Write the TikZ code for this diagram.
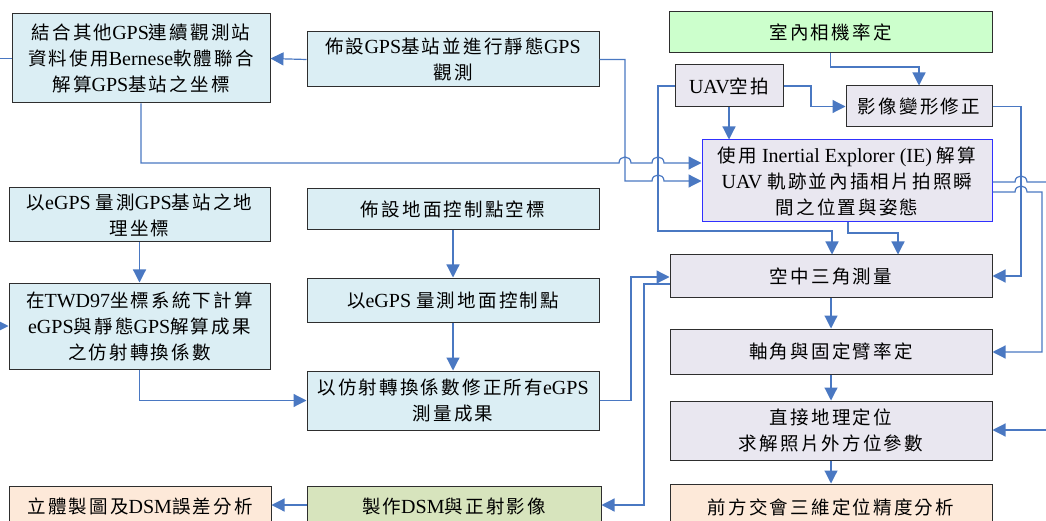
\documentclass[tikz,border=0pt]{standalone}
\usepackage{fontspec}
\setmainfont{Liberation Serif}
\newfontfamily\latinfont{Liberation Serif}
\newfontfamily\cjkfont[LetterSpace=12]{Noto Sans CJK TC}
\usetikzlibrary{arrows.meta}
\definecolor{lblue}{HTML}{DBEEF4}
\definecolor{lav}{HTML}{E9E7F0}
\definecolor{lgreen}{HTML}{CCFFCC}
\definecolor{peach}{HTML}{FDE9D9}
\definecolor{olive}{HTML}{D7E4BD}
\definecolor{lineblue}{HTML}{4A78C2}
\definecolor{bord}{HTML}{2E2E2E}
\definecolor{fblue}{HTML}{3030FF}
\newcommand\en[1]{{\fontsize{20}{26}\latinfont #1}}
\begin{document}
\begin{tikzpicture}[x=1pt,y=-1pt,
  box/.style={draw=bord, line width=1pt, inner sep=0pt, align=center,
    font=\fontsize{18.5}{26}\cjkfont},
  conn/.style={draw=lineblue, line width=1.2pt},
  arr/.style={conn, -{Triangle[length=13pt,width=13pt]}}]
\clip (0,0) rectangle (1046,521);
\fill[white] (0,0) rectangle (1046,521);
% boxes
\node[box, fill=lblue, minimum width=258pt, minimum height=89pt] (A) at (141,58.5)
  {結合其他\en{GPS}連續觀測站\\資料使用\en{Bernese}軟體聯合\\解算\en{GPS}基站之坐標};
\node[box, fill=lblue, minimum width=292pt, minimum height=55pt] (B) at (453,59.5)
  {佈設\en{GPS}基站並進行靜態\en{GPS}\\觀測};
\node[box, fill=lgreen, minimum width=323pt, minimum height=41pt] (C) at (830.5,32.5)
  {室內相機率定};
\node[box, fill=lav, minimum width=108pt, minimum height=42pt] (D) at (729,86)
  {\en{UAV}空拍};
\node[box, fill=lav, minimum width=146pt, minimum height=41pt] (E) at (919,106.5)
  {影像變形修正};
\node[box, draw=fblue, fill=lav, minimum width=290pt, minimum height=82pt] (F) at (847,181)
  {使用\en{ Inertial Explorer (IE) }解算\\\en{UAV }軌跡並內插相片拍照瞬\\間之位置與姿態};
\node[box, fill=lblue, minimum width=261pt, minimum height=54pt] (G) at (139.5,215)
  {以\en{eGPS }量測\en{GPS}基站之地\\理坐標};
\node[box, fill=lblue, minimum width=261pt, minimum height=86pt] (H) at (139.5,326)
  {在\en{TWD97}坐標系統下計算\\\en{eGPS}與靜態\en{GPS}解算成果\\之仿射轉換係數};
\node[box, fill=lblue, minimum width=292pt, minimum height=41pt] (I) at (453,209.5)
  {佈設地面控制點空標};
\node[box, fill=lblue, minimum width=292pt, minimum height=44pt] (J) at (453,300)
  {以\en{eGPS }量測地面控制點};
\node[box, fill=lblue, minimum width=292pt, minimum height=59pt] (K) at (453,400.5)
  {以仿射轉換係數修正所有\en{eGPS}\\測量成果};
\node[box, fill=lav, minimum width=322pt, minimum height=42pt] (L) at (831,276)
  {空中三角測量};
\node[box, fill=lav, minimum width=322pt, minimum height=45pt] (M) at (831,351.5)
  {軸角與固定臂率定};
\node[box, fill=lav, minimum width=322pt, minimum height=59pt] (N) at (831,430.5)
  {直接地理定位\\求解照片外方位參數};
\node[box, fill=peach, minimum width=322pt, minimum height=46pt] (O) at (831,507)
  {前方交會三維定位精度分析};
\node[box, fill=olive, minimum width=294pt, minimum height=40pt] (P) at (454,506)
  {製作\en{DSM}與正射影像};
\node[box, fill=peach, minimum width=262pt, minimum height=40pt] (Q) at (140,506)
  {立體製圖及\en{DSM}誤差分析};
% free ends at the picture's edges
\coordinate (al) at (0,58.5);
\coordinate (hl) at (0,326);
\coordinate (fr) at (1046,182);
\coordinate (nr) at (1046,430);
% connectors
\draw[arr] (B.west) -- (A.east);
\draw[conn] (A.west) -- (al);
\draw[arr] (hl) -- (H.west);
\draw[arr] (B.east) -- (625,59.5) -- (625,181) -- (652,181)
  .. controls (652,173) and (664,173) .. (664,181) -- (F.west |- 0,181);
\draw[arr] (A.south) -- (141,163) -- (619,163)
  .. controls (619,155) and (631,155) .. (631,163) -- (652,163)
  .. controls (652,155) and (664,155) .. (664,163) -- (F.west |- 0,163);
\draw[arr] (D.west) -- (658,86) -- (658,231) -- (832,231) -- (L.north -| 832,0);
\draw[arr] (D.south) -- (D.south |- F.north);
\draw[arr] (D.east) -- (811,86) -- (811,106.5) -- (E.west);
\draw[arr] (C.south) -- (830.5,67) -- (919,67) -- (E.north);
\draw[arr] (E.east) -- (1021,106.5) -- (1021,276) -- (L.east);
\draw[arr] (F.south -| 848,0) -- (848,233) -- (898,233) -- (L.north -| 898,0);
\draw[conn] (F.east |- 0,182) -- (1015,182)
  .. controls (1015,174) and (1027,174) .. (1027,182) -- (fr);
\draw[arr] (F.east |- 0,192) -- (1015,192)
  .. controls (1015,184) and (1027,184) .. (1027,192) -- (1042,192) -- (1042,352) -- (M.east |- 0,352);
\draw[arr] (nr) -- (N.east |- nr);
\draw[arr] (L.south) -- (M.north);
\draw[arr] (M.south) -- (N.north);
\draw[arr] (N.south) -- (O.north);
\draw[arr] (K.east) -- (631,400.5) -- (631,277) -- (L.west |- 0,277);
\draw[arr] (L.west |- 0,284) -- (644,284) -- (644,505) -- (P.east |- 0,505);
\draw[arr] (P.west |- 0,505) -- (Q.east |- 0,505);
\draw[arr] (G.south) -- (H.north);
\draw[arr] (H.south) -- (139.5,400.5) -- (K.west);
\draw[arr] (I.south) -- (J.north);
\draw[arr] (J.south) -- (K.north);
\end{tikzpicture}
\end{document}
